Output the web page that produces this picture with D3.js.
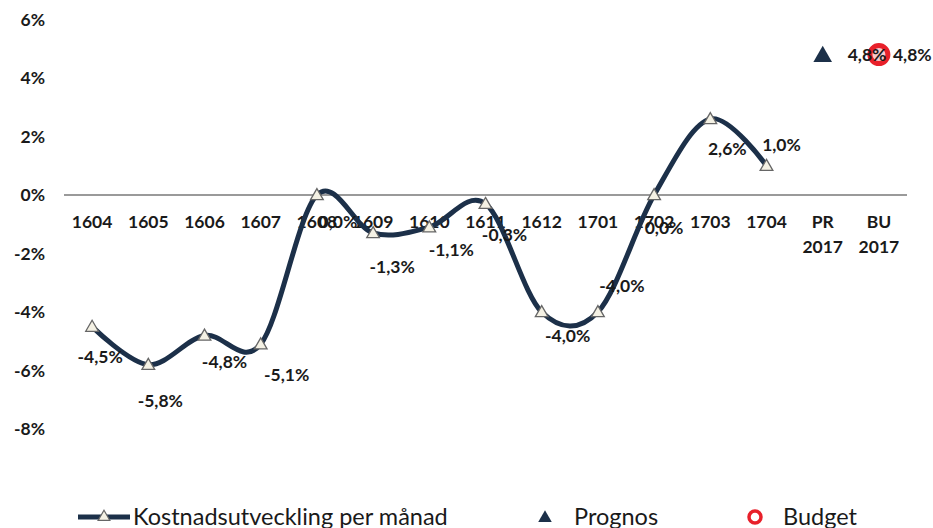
<!DOCTYPE html>
<html><head><meta charset="utf-8">
<script src="https://cdn.jsdelivr.net/npm/d3@7"></script>
<style>
body{margin:0;background:#fff;}
svg{display:block;font-family:Lato,"Open Sans",sans-serif;}
</style></head>
<body><svg id="c" width="933" height="528"></svg>
<script>
const categories = ["1604","1605","1606","1607","1608","1609","1610","1611","1612","1701","1702","1703","1704","PR 2017","BU 2017"];
const monthly = [-4.5,-5.8,-4.8,-5.1,0.0,-1.3,-1.1,-0.3,-4.0,-4.0,0.0,2.6,1.0,null,null];
const prognos = [null,null,null,null,null,null,null,null,null,null,null,null,null,4.8,null];
const budget  = [null,null,null,null,null,null,null,null,null,null,null,null,null,null,4.8];
const yTicks = [6,4,2,0,-2,-4,-6,-8];
const seriesNames = ["Kostnadsutveckling per månad","Prognos","Budget"];

// label offsets (style only)
const monthlyLabelOffsets = [[8,30],[12,36],[20,26],[26,31],[21,27],[19,34],[22,23],[19,31],[26,24],[24,-26],[10,33],[17,30],[15,-21],[0,0],[0,0]];

const svg = d3.select("#c");
const navy = "#1c3049";
const fmt = v => d3.format(".1f")(v).replace("−","-").replace(".", ",") + "%";

const x = d3.scaleBand().domain(categories).range([64, 907]);
const y = d3.scaleLinear().domain([-8, 6]).range([429, 19.5]);
const cx = c => x(c) + x.bandwidth()/2;

// y axis labels
const yAxis = d3.axisLeft(y).tickValues(yTicks).tickSize(0).tickPadding(0).tickFormat(d => String(d).replace("−","-") + "%");
const ya = svg.append("g").attr("transform","translate(45,0)").call(yAxis);
ya.select(".domain").remove();
ya.selectAll("text").attr("font-size",17.5).attr("font-weight","bold").attr("fill","#1a1a1a").attr("font-family","Lato, sans-serif");

// zero line
svg.append("line").attr("x1",64).attr("x2",907).attr("y1",y(0)).attr("y2",y(0))
  .attr("stroke","#9a9a9a").attr("stroke-width",2);

// x axis labels
const xa = svg.append("g").attr("transform",`translate(0,${y(0)})`)
  .call(d3.axisBottom(x).tickSize(0).tickFormat(""));
xa.select(".domain").remove();
xa.selectAll(".tick").each(function(d){
  const parts = d.split(" ");
  const t = d3.select(this).append("text").attr("fill","#1a1a1a").attr("font-size",17.5)
    .attr("font-weight","bold").attr("text-anchor","middle").attr("font-family","Lato, sans-serif");
  parts.forEach((p,i)=>t.append("tspan").attr("x",0).attr("y",33 + i*25).text(p));
});

// monthly line
const pts = categories.map((c,i)=>({c, v: monthly[i], i})).filter(d=>d.v!==null);
const line = d3.line().x(d=>cx(d.c)).y(d=>y(d.v)).curve(d3.curveCardinal.tension(0));
svg.append("path").datum(pts).attr("d",line).attr("fill","none").attr("stroke",navy)
  .attr("stroke-width",5).attr("stroke-linecap","round");

const tri = d3.symbol().type(d3.symbolTriangle);
svg.selectAll(".m").data(pts).join("path").attr("class","m")
  .attr("transform",d=>`translate(${cx(d.c)},${y(d.v)+1})`)
  .attr("d",tri.size(70)()).attr("fill","#f4f1e4").attr("stroke","#666").attr("stroke-width",1.3);

// budget marker
const bud = categories.map((c,i)=>({c,v:budget[i]})).filter(d=>d.v!==null);
svg.selectAll(".b").data(bud).join("circle").attr("cx",d=>cx(d.c)).attr("cy",d=>y(d.v))
  .attr("r",9).attr("fill","#f7c9cc").attr("stroke","#e8202a").attr("stroke-width",5);

// prognos marker
const prg = categories.map((c,i)=>({c,v:prognos[i]})).filter(d=>d.v!==null);
svg.selectAll(".p").data(prg).join("path")
  .attr("transform",d=>`translate(${cx(d.c)},${y(d.v)+2})`)
  .attr("d",d3.symbol().type(d3.symbolTriangle).size(150)()).attr("fill",navy);

// labels
const lab = svg.append("g").attr("font-size",17.5).attr("font-weight","bold").attr("fill","#1a1a1a")
  .attr("font-family","Lato, sans-serif");
lab.selectAll("text.ml").data(pts).join("text").attr("class","ml")
  .attr("x",d=>cx(d.c)+monthlyLabelOffsets[d.i][0]).attr("y",d=>y(d.v)+monthlyLabelOffsets[d.i][1])
  .attr("dy","0.35em").attr("text-anchor","middle").text(d=>fmt(d.v));
lab.selectAll("text.pl").data(prg).join("text").attr("class","pl")
  .attr("x",d=>cx(d.c)+25).attr("y",d=>y(d.v)).attr("dy","0.35em").text(d=>fmt(d.v));
lab.selectAll("text.bl").data(bud).join("text").attr("class","bl")
  .attr("x",d=>cx(d.c)+14).attr("y",d=>y(d.v)).attr("dy","0.35em").text(d=>fmt(d.v));

// legend
const lg = svg.append("g").attr("font-family","Lato, sans-serif").attr("font-size",23.5).attr("fill","#1a1a1a");
const ly = 517;
lg.append("line").attr("x1",78).attr("x2",130).attr("y1",ly).attr("y2",ly).attr("stroke",navy).attr("stroke-width",5);
lg.append("path").attr("transform",`translate(104,${ly})`).attr("d",tri.size(60)()).attr("fill","#f4f1e4").attr("stroke","#666").attr("stroke-width",1.2);
lg.append("text").attr("x",133).attr("y",ly).attr("dy","0.35em").text(seriesNames[0]);
lg.append("path").attr("transform",`translate(545,${ly+1})`).attr("d",d3.symbol().type(d3.symbolTriangle).size(80)()).attr("fill",navy);
lg.append("text").attr("x",574).attr("y",ly).attr("dy","0.35em").text(seriesNames[1]);
lg.append("circle").attr("cx",755).attr("cy",ly).attr("r",6).attr("fill","none").attr("stroke","#e8202a").attr("stroke-width",3.5);
lg.append("text").attr("x",783).attr("y",ly).attr("dy","0.35em").text(seriesNames[2]);
</script></body></html>
